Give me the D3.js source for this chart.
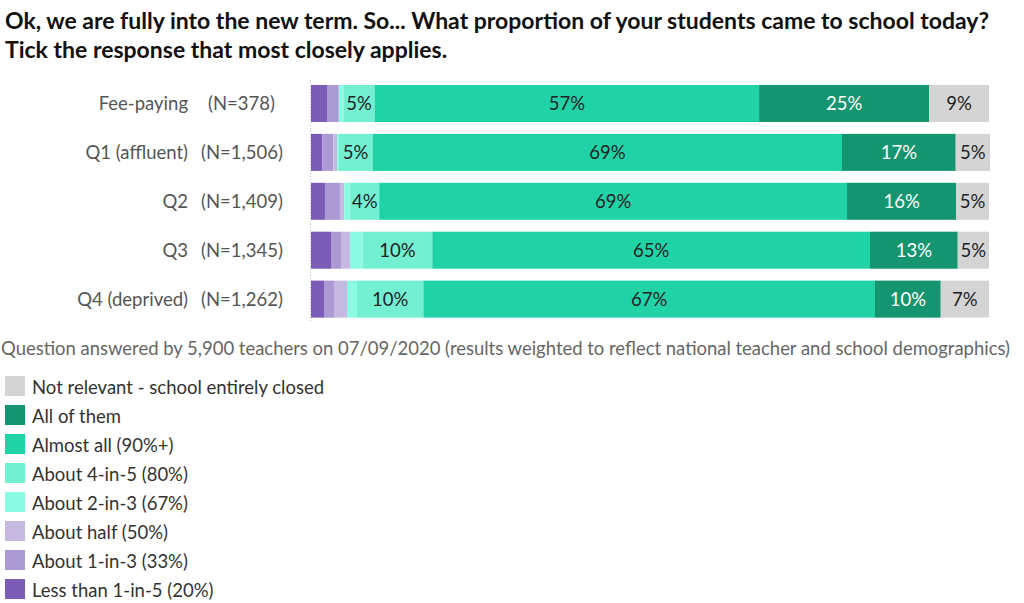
<!DOCTYPE html>
<html>
<head>
<meta charset="utf-8">
<script src="https://cdn.jsdelivr.net/npm/d3@7"></script>
<style>
  html, body { margin: 0; padding: 0; background: #fff; }
  svg { display: block; font-family: Lato, "Open Sans", sans-serif; }
</style>
</head>
<body>
<svg id="chart" width="1024" height="603"></svg>
<script>
// ---- data ----
const categories = ["Fee-paying", "Q1 (affluent)", "Q2", "Q3", "Q4 (deprived)"];
const sampleSizes = ["(N=378)", "(N=1,506)", "(N=1,409)", "(N=1,345)", "(N=1,262)"];
const seriesNames = [
  "Less than 1-in-5 (20%)", "About 1-in-3 (33%)", "About half (50%)",
  "About 2-in-3 (67%)", "About 4-in-5 (80%)", "Almost all (90%+)",
  "All of them", "Not relevant - school entirely closed"
];
const lessThan1in5 = [2.36, 1.67, 2.06, 2.95, 1.92];
const about1in3    = [1.62, 1.62, 2.21, 1.47, 1.47];
const aboutHalf    = [0.15, 0.55, 0.63, 1.33, 1.92];
const about2in3    = [0.66, 0.19, 0.88, 1.87, 1.47];
const about4in5    = [4.6, 5.07, 4.28, 10.27, 9.8];
const almostAll    = [56.7, 69.22, 69.0, 64.56, 66.6];
const allOfThem    = [25.07, 16.77, 16.1, 12.94, 9.7];
const notRelevant  = [8.84, 5.06, 4.84, 4.61, 7.12];
const seriesValues = [lessThan1in5, about1in3, aboutHalf, about2in3, about4in5, almostAll, allOfThem, notRelevant];
const colors = ["#7b5cb6", "#ab99d3", "#c6b9e1", "#8cfbe3", "#73efd2", "#20d3a7", "#15956f", "#d4d4d4"];
const labelColors = ["#222", "#222", "#222", "#222", "#222", "#222", "#fff", "#222"];
const title1 = "Ok, we are fully into the new term. So... What proportion of your students came to school today?";
const title2 = "Tick the response that most closely applies.";
const footnote = "Question answered by 5,900 teachers on 07/09/2020 (results weighted to reflect national teacher and school demographics)";

// ---- build ----
const svg = d3.select("#chart");

svg.append("text").attr("x", 5).attr("y", 29)
  .attr("font-size", 23).attr("font-weight", 700).attr("fill", "#111").text(title1);
svg.append("text").attr("x", 5).attr("y", 58)
  .attr("font-size", 23).attr("font-weight", 700).attr("fill", "#111").text(title2);

const x = d3.scaleLinear().domain([0, 100]).range([311, 989]);
const y = d3.scaleBand().domain(categories).range([79.1, 323.5]).paddingInner(0.243).paddingOuter(0.12);

// stacked data
const rows = categories.map((c, i) => {
  const r = { cat: c };
  seriesNames.forEach((s, k) => r[s] = seriesValues[k][i]);
  return r;
});
const stack = d3.stack().keys(seriesNames)(rows);

// dotted axis line
svg.append("line").attr("x1", 310.5).attr("x2", 310.5)
  .attr("y1", 80).attr("y2", 323)
  .attr("stroke", "#bbb").attr("stroke-dasharray", "1,2");

const layer = svg.append("g").selectAll("g").data(stack).join("g")
  .attr("fill", (d, i) => colors[i]);
layer.selectAll("rect").data(d => d).join("rect")
  .attr("x", d => x(d[0]))
  .attr("y", d => y(d.data.cat))
  .attr("width", d => Math.max(0, x(d[1]) - x(d[0])))
  .attr("height", y.bandwidth());

// segment labels
stack.forEach((s, i) => {
  svg.append("g").selectAll("text").data(s.filter(d => d[1] - d[0] >= 3.5)).join("text")
    .attr("x", d => (x(d[0]) + x(d[1])) / 2)
    .attr("y", d => y(d.data.cat) + y.bandwidth() / 2)
    .attr("dy", "0.35em")
    .attr("text-anchor", "middle")
    .attr("font-size", 18.5)
    .attr("fill", labelColors[i])
    .text(d => Math.round(d[1] - d[0]) + "%");
});

// category labels
svg.append("g").selectAll("text").data(categories).join("text")
  .attr("x", 188).attr("y", d => y(d) + y.bandwidth() / 2).attr("dy", "0.35em")
  .attr("text-anchor", "end").attr("font-size", 18.5).attr("fill", "#555").text(d => d);
svg.append("g").selectAll("text").data(sampleSizes).join("text")
  .attr("x", (d, i) => i === 0 ? 208 : 201)
  .attr("y", (d, i) => y(categories[i]) + y.bandwidth() / 2).attr("dy", "0.35em")
  .attr("text-anchor", "start").attr("font-size", 18.5).attr("fill", "#555").text(d => d);

// footnote
svg.append("text").attr("x", 1).attr("y", 355)
  .attr("font-size", 18.5).attr("fill", "#666").attr("textLength", 1009)
  .attr("lengthAdjust", "spacingAndGlyphs").text(footnote);

// legend (reverse order)
const legendItems = seriesNames.map((n, i) => ({ n, c: colors[i] })).reverse();
const lg = svg.append("g").selectAll("g").data(legendItems).join("g")
  .attr("transform", (d, i) => `translate(5, ${376 + i * 29})`);
lg.append("rect").attr("width", 20).attr("height", 20).attr("fill", d => d.c);
lg.append("text").attr("x", 27).attr("y", 11.5).attr("dy", "0.35em")
  .attr("font-size", 18.5).attr("fill", "#333").text(d => d.n);
</script>
</body>
</html>
